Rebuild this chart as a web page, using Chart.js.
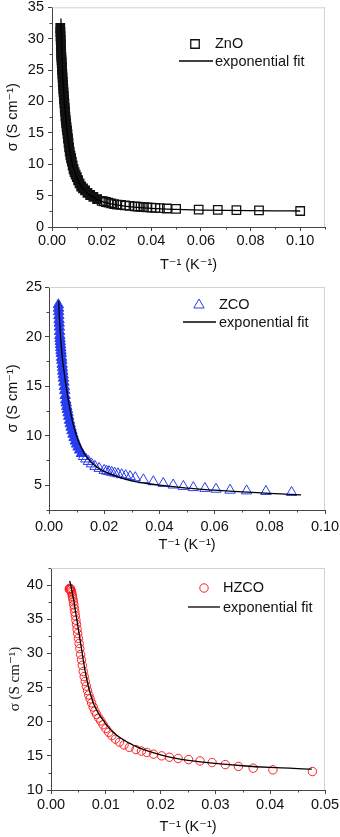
<!DOCTYPE html>
<html>
<head>
<meta charset="utf-8">
<script src="https://cdn.jsdelivr.net/npm/chart.js@4.4.0/dist/chart.umd.min.js"></script>
<style>
  html, body { margin: 0; padding: 0; background: #fff; }
  body { width: 340px; height: 837px; position: relative; overflow: hidden; }
  canvas { position: absolute; left: 0; display: block; }
</style>
</head>
<body>
<canvas id="c1" width="340" height="280" style="top:0;width:340px;height:280px"></canvas>
<canvas id="c2" width="340" height="275" style="top:280px;width:340px;height:275px"></canvas>
<canvas id="c3" width="340" height="282" style="top:555px;width:340px;height:282px"></canvas>
<script>
// ---- ZnO (squares) ----
const znoX = [0.00333,0.00339,0.00345,0.00351,0.00357,0.00364,0.00370,0.00377,0.00385,0.00392,
  0.00400,0.00408,0.00417,0.00426,0.00435,0.00444,0.00455,0.00465,0.00476,0.00488,
  0.00500,0.00513,0.00526,0.00541,0.00556,0.00571,0.00588,0.00606,0.00625,0.00645,
  0.00667,0.00690,0.00714,0.00741,0.00769,0.00800,0.00833,0.00870,0.00909,0.00952,
  0.01000,0.01053,0.01111,0.01176,0.01250,0.01333,0.01429,0.01538,0.01667,0.01818,
  0.02000,0.02083,0.02174,0.02273,0.02381,0.02500,0.02632,0.02778,0.02941,0.03125,
  0.03333,0.03448,0.03571,0.03704,0.03846,0.04000,0.04167,0.04348,0.04630,0.05000,
  0.05910,0.06680,0.07430,0.08340,0.10000];
const znoY = [31.7,31.1,30.4,29.8,29.1,28.3,27.6,27.1,26.6,26.1,
  25.5,25.0,24.4,23.8,23.1,22.6,22.0,21.5,20.9,20.3,
  19.7,19.0,18.4,17.6,17.0,16.5,15.9,15.4,14.8,14.1,
  13.4,12.7,12.0,11.4,10.95,10.4,9.8,9.2,8.75,8.35,
  7.95,7.45,6.95,6.45,6.15,5.85,5.45,5.1,4.8,4.45,
  4.15,4.07,3.98,3.88,3.77,3.65,3.58,3.51,3.43,3.36,
  3.3,3.26,3.22,3.18,3.14,3.1,3.05,3.0,2.95,2.88,
  2.78,2.72,2.68,2.64,2.55];
const znoFitX = [0.0036,0.0038,0.0040,0.0043,0.0047,0.0052,0.0058,0.0065,0.0073,0.0082,0.0092,0.0105,0.0120,
  0.0140,0.0165,0.0200,0.0250,0.0300,0.0400,0.0500,0.0600,0.0700,0.0800,0.0900,0.1000];
const znoFitY = [33.2,29.6,27.2,24.4,21.6,18.9,16.3,14.0,11.9,10.1,8.7,7.4,6.35,
  5.45,4.75,4.1,3.6,3.3,2.97,2.8,2.7,2.64,2.6,2.57,2.55];
const znoXTicks = [0, 0.02, 0.04, 0.06, 0.08, 0.10];
const znoYTicks = [0, 5, 10, 15, 20, 25, 30, 35];

// ---- ZCO (triangles) ----
const zcoX = [0.00339,0.00345,0.00351,0.00357,0.00364,0.00370,0.00377,0.00385,0.00392,0.00400,
  0.00408,0.00417,0.00426,0.00435,0.00444,0.00455,0.00465,0.00476,0.00488,0.00500,
  0.00513,0.00526,0.00541,0.00556,0.00571,0.00588,0.00606,0.00625,0.00645,0.00667,
  0.00690,0.00714,0.00741,0.00769,0.00800,0.00833,0.00870,0.00909,0.00952,0.01000,
  0.01053,0.01111,0.01176,0.01250,0.01333,0.01429,0.01538,0.01667,0.01818,0.02000,
  0.02083,0.02174,0.02273,0.02381,0.02500,0.02632,0.02778,0.02941,0.03125,
  0.03420,0.03780,0.04140,0.04500,0.04870,0.05230,0.05650,0.06050,0.06560,0.07160,0.07860,0.08790];
const zcoY = [23.2,22.85,22.5,22.1,21.7,21.35,20.95,20.5,20.1,19.8,
  19.5,19.2,18.9,18.6,18.3,17.9,17.6,17.2,16.85,16.5,
  16.15,15.8,15.4,14.95,14.55,14.05,13.6,13.3,12.95,12.65,
  12.3,11.95,11.55,11.2,10.85,10.5,10.15,9.8,9.45,9.15,
  8.85,8.55,8.2,7.9,7.65,7.4,7.15,6.9,6.7,6.5,
  6.43,6.37,6.3,6.23,6.15,6.06,5.97,5.87,5.76,
  5.55,5.35,5.18,5.02,4.88,4.76,4.68,4.6,4.5,4.43,4.37,4.27];
const zcoFitX = [0.0035,0.0038,0.0041,0.0045,0.0050,0.0056,0.0063,0.0070,0.0080,0.0090,0.0100,0.0115,0.0130,
  0.0150,0.0175,0.0200,0.0250,0.0300,0.0350,0.0400,0.0500,0.0600,0.0700,0.0800,0.0913];
const zcoFitY = [23.6,21.8,20.3,18.9,17.4,16.2,14.8,13.6,12.1,10.9,9.95,8.9,8.1,
  7.4,6.8,6.4,5.85,5.45,5.2,5.0,4.7,4.5,4.33,4.17,4.03];
const zcoXTicks = [0, 0.02, 0.04, 0.06, 0.08, 0.10];
const zcoYTicks = [5, 10, 15, 20, 25];

// ---- HZCO (circles) ----
const hzcoX = [0.00333,0.00339,0.00345,0.00351,0.00357,0.00364,0.00370,0.00377,0.00385,0.00392,
  0.00400,0.00408,0.00417,0.00426,0.00435,0.00444,0.00455,0.00465,0.00476,0.00488,
  0.00500,0.00513,0.00526,0.00541,0.00556,0.00571,0.00588,0.00606,0.00625,0.00645,
  0.00667,0.00690,0.00714,0.00741,0.00769,0.00800,0.00833,0.00870,0.00909,0.00952,
  0.01000,0.01053,0.01111,0.01176,0.01250,0.01333,0.01429,
  0.01550,0.01650,0.01750,0.01870,0.02020,0.02160,0.02320,0.02510,0.02720,0.02940,
  0.03180,0.03420,0.03690,0.04050,0.04770];
const hzcoY = [39.4,39.5,39.5,39.5,39.4,39.3,39.1,38.9,38.6,38.3,
  37.95,37.55,37.1,36.6,36.05,35.5,34.85,34.25,33.55,32.9,
  32.2,31.45,30.7,29.85,29.05,28.25,27.35,26.6,25.9,25.2,
  24.55,23.9,23.35,22.75,22.15,21.55,21.05,20.55,20.1,19.55,
  19.0,18.45,17.95,17.45,17.0,16.6,16.25,
  15.92,15.7,15.5,15.25,15.0,14.8,14.62,14.45,14.25,14.02,
  13.72,13.45,13.2,12.95,12.7];
const hzcoFitX = [0.0034,0.0036,0.0038,0.0040,0.0042,0.0044,0.0047,0.0050,0.0054,0.0057,0.0061,0.0064,0.0069,
  0.0074,0.0078,0.0084,0.0089,0.0095,0.0103,0.0115,0.0127,0.0143,0.0160,0.0179,0.0200,0.0221,0.0250,
  0.0300,0.0350,0.0400,0.0476];
const hzcoFitY = [40.6,40.0,39.2,38.4,37.6,36.5,35.0,33.5,31.5,30.0,28.0,26.7,24.9,
  23.5,22.6,21.6,20.9,20.25,19.35,18.35,17.6,16.85,16.2,15.65,15.15,14.75,14.35,
  13.9,13.55,13.3,13.05];
const hzcoXTicks = [0, 0.01, 0.02, 0.03, 0.04, 0.05];
const hzcoYTicks = [10, 15, 20, 25, 30, 35, 40];

const AXIS = '#454545';
const TXT = '#111';
const SANS = '"Liberation Sans", Arial, "DejaVu Sans", sans-serif';
const SERIF = '"Liberation Serif", "Times New Roman", "DejaVu Serif", serif';

function pts(xs, ys) { return xs.map((x, i) => ({ x: x, y: ys[i] })); }

function minorsOf(ticks, min, max) {
  const step = ticks[1] - ticks[0];
  const out = [];
  const first = ticks[0] - step / 2;
  if (first >= min - 1e-9) out.push(first);
  ticks.forEach(t => { const m = t + step / 2; if (m <= max + 1e-9) out.push(m); });
  return out;
}

// frame top/right, minor ticks and the legend box
const decor = {
  id: 'decor',
  afterDraw(chart, args, o) {
    const { ctx, chartArea: a } = chart;
    const xs = chart.scales.x, ys = chart.scales.y;
    ctx.save();
    ctx.lineWidth = 1;
    ctx.strokeStyle = '#d2d2d2';
    ctx.beginPath();
    ctx.moveTo(a.left, a.top + 0.5); ctx.lineTo(a.right, a.top + 0.5);
    ctx.moveTo(a.right - 0.5, a.top); ctx.lineTo(a.right - 0.5, a.bottom);
    ctx.stroke();

    ctx.strokeStyle = AXIS;
    ctx.beginPath();
    minorsOf(o.xTicks, xs.min, xs.max).forEach(v => {
      const p = Math.round(xs.getPixelForValue(v)) + 0.5;
      ctx.moveTo(p, a.bottom); ctx.lineTo(p, a.bottom + 2.5);
    });
    minorsOf(o.yTicks, ys.min, ys.max).forEach(v => {
      const p = Math.round(ys.getPixelForValue(v)) + 0.5;
      ctx.moveTo(a.left, p); ctx.lineTo(a.left - 2.5, p);
    });
    ctx.stroke();

    const L = o.legend;
    ctx.strokeStyle = L.color;
    ctx.fillStyle = 'rgba(0,0,0,0)';
    ctx.lineWidth = L.bw;
    Chart.helpers.drawPoint(ctx, { pointStyle: L.style, radius: L.radius, rotation: 0, borderWidth: L.bw }, L.mx, L.my);
    ctx.strokeStyle = '#000';
    ctx.lineWidth = 1.3;
    ctx.beginPath();
    ctx.moveTo(L.lx1, L.ly); ctx.lineTo(L.lx2, L.ly);
    ctx.stroke();
    ctx.fillStyle = TXT;
    ctx.font = '14.5px ' + SANS;
    ctx.textBaseline = 'middle';
    ctx.textAlign = 'left';
    ctx.fillText(o.name, L.tx, L.my);
    ctx.fillText('exponential fit', L.tx, L.ly + 1);
    ctx.restore();
  }
};

function makeChart(id, c) {
  const tickFont = { family: SANS, size: 14.5 };
  new Chart(document.getElementById(id), {
    type: 'scatter',
    data: {
      datasets: [
        {
          label: 'exponential fit',
          data: pts(c.fitX, c.fitY),
          showLine: true,
          pointRadius: 0,
          borderColor: '#000',
          borderWidth: 1.3,
          cubicInterpolationMode: 'monotone',
          fill: false
        },
        {
          label: c.name,
          data: pts(c.x, c.y),
          showLine: false,
          pointStyle: c.style,
          pointRadius: c.radius,
          pointBorderWidth: c.bw,
          pointBorderColor: c.color,
          pointBackgroundColor: ctx => (ctx.raw && ctx.raw.x < c.solidUntil) ? c.color : 'rgba(0,0,0,0)'
        }
      ]
    },
    options: {
      responsive: false,
      animation: false,
      devicePixelRatio: 1,
      layout: { padding: { left: 0, right: 340 - c.right, top: c.top, bottom: 0 } },
      plugins: {
        legend: { display: false },
        tooltip: { enabled: false },
        decor: { name: c.name, xTicks: c.xTicks, yTicks: c.yTicks, legend: c.legend }
      },
      scales: {
        x: {
          type: 'linear',
          min: c.xMin, max: c.xMax,
          afterBuildTicks: s => { s.ticks = c.xTicks.map(v => ({ value: v })); },
          afterFit: s => { s.height = c.h - c.bottom; s.paddingLeft = 0; s.paddingRight = 0; },
          grid: { drawOnChartArea: false, drawTicks: true, tickLength: 4, tickColor: AXIS, color: AXIS },
          border: { display: true, color: AXIS, width: 1 },
          ticks: { font: tickFont, color: TXT, padding: c.xPad, autoSkip: false, maxRotation: 0,
                   callback: v => v.toFixed(c.xDec) },
          title: { display: true, text: 'T⁻¹ (K⁻¹)', color: TXT, font: { family: SANS, size: 14.5 },
                   padding: { top: 0, bottom: c.xtPad } }
        },
        y: {
          type: 'linear',
          min: c.yMin, max: c.yMax,
          afterBuildTicks: s => { s.ticks = c.yTicks.map(v => ({ value: v })); },
          afterFit: s => { s.width = c.left; s.paddingTop = 0; s.paddingBottom = 0; },
          grid: { drawOnChartArea: false, drawTicks: true, tickLength: 4, tickColor: AXIS, color: AXIS },
          border: { display: true, color: AXIS, width: 1 },
          ticks: { font: tickFont, color: TXT, padding: c.yPad, autoSkip: false, callback: v => String(v) },
          title: { display: true, text: 'σ (S cm⁻¹)', color: TXT, font: c.yTitleFont,
                   padding: { top: c.ytPad, bottom: 0 } }
        }
      }
    },
    plugins: [decor]
  });
}

makeChart('c1', {
  name: 'ZnO', x: znoX, y: znoY, fitX: znoFitX, fitY: znoFitY,
  style: 'rect', radius: 6, bw: 1.3, color: '#111', solidUntil: 0.02,
  xMin: 0, xMax: 0.11, yMin: 0, yMax: 35, xTicks: znoXTicks, yTicks: znoYTicks, xDec: 2,
  h: 280, left: 52, right: 325, top: 7, bottom: 227,
  xPad: 1, yPad: 4, xtPad: 6, ytPad: 4, yTitleFont: { family: SANS, size: 14.5 },
  legend: { style: 'rect', radius: 6, bw: 1.3, color: '#111', mx: 195, my: 44, tx: 215, lx1: 179, lx2: 213, ly: 61 }
});

makeChart('c2', {
  name: 'ZCO', x: zcoX, y: zcoY, fitX: zcoFitX, fitY: zcoFitY,
  style: 'triangle', radius: 6, bw: 1, color: 'rgb(40,60,240)', solidUntil: 0.0125,
  xMin: 0, xMax: 0.10, yMin: 2.5, yMax: 25, xTicks: zcoXTicks, yTicks: zcoYTicks, xDec: 2,
  h: 275, left: 49, right: 325, top: 7, bottom: 230,
  xPad: 4, yPad: 3, xtPad: 1, ytPad: 4, yTitleFont: { family: SANS, size: 14.5 },
  legend: { style: 'triangle', radius: 6, bw: 1, color: 'rgb(40,60,240)', mx: 199, my: 25, tx: 219, lx1: 183, lx2: 216, ly: 42 }
});

makeChart('c3', {
  name: 'HZCO', x: hzcoX, y: hzcoY, fitX: hzcoFitX, fitY: hzcoFitY,
  style: 'circle', radius: 4.2, bw: 1, color: 'rgb(255,30,30)', solidUntil: 0,
  xMin: 0, xMax: 0.05, yMin: 10, yMax: 42.5, xTicks: hzcoXTicks, yTicks: hzcoYTicks, xDec: 2,
  h: 282, left: 51, right: 325, top: 13, bottom: 235,
  xPad: 2, yPad: 4, xtPad: 1, ytPad: 6, yTitleFont: { family: SERIF, size: 15 },
  legend: { style: 'circle', radius: 4.2, bw: 1, color: 'rgb(255,30,30)', mx: 204, my: 33, tx: 223, lx1: 188, lx2: 220, ly: 52 }
});
</script>
</body>
</html>
